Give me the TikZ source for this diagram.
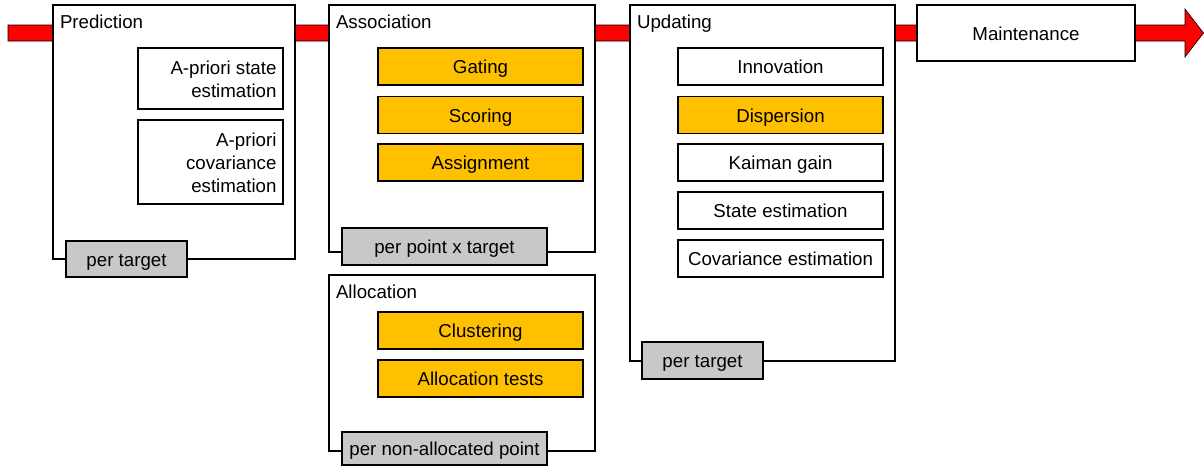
\documentclass[tikz,border=0pt]{standalone}
\usepackage{fontspec}
\setmainfont{Liberation Sans}
\definecolor{boxorange}{HTML}{FFC000}
\definecolor{taggray}{HTML}{C8C8C8}
\begin{document}
\begin{tikzpicture}[x=1pt,y=-1pt,
  every node/.style={font=\fontsize{18.7}{23}\selectfont, inner sep=0pt, outer sep=0pt},
  oneline/.style={text height=17pt, text depth=3pt},
  stage/.style={draw=black, line width=1.8pt, fill=white, anchor=center},
  task/.style={oneline, draw=black, line width=1.8pt, fill=white, minimum width=205pt, minimum height=37pt, anchor=center},
  otask/.style={task, fill=boxorange},
  tag/.style={oneline, draw=black, line width=1.8pt, fill=taggray, minimum height=36pt, anchor=center},
  title/.style={anchor=north west, inner sep=1pt},
  multi/.style={anchor=north east, align=right},
  flow/.style={fill=red, draw=black, line width=0.6pt}]
\useasboundingbox (0,0) rectangle (1204,467);
% flow arrow
\coordinate (fstart) at (8,33);
\coordinate (ftip) at (1203.5,33);
\draw[flow] (8,25) -- (1185,25) -- (1185,9) -- (ftip) -- (1185,57) -- (1185,41) -- (8,41) -- cycle;
% Prediction
\node[stage, minimum width=242pt, minimum height=254pt] (pred) at (174,132) {};
\node[title] (predt) at (pred.north west) [xshift=6pt, yshift=-9pt] {Prediction};
\node[task, minimum width=145pt, minimum height=61pt] (ap1) at (210.5,78.5) {};
\node[multi] (ap1t) at (276.5,60.6) {A-priori state\\estimation};
\node[task, minimum width=145pt, minimum height=84pt] (ap2) at (210.5,162) {};
\node[multi] (ap2t) at (276.5,133.2) {A-priori\\covariance\\estimation};
\node[tag, minimum width=121pt] (pt1) at (126.5,259) {per target};
% Association
\node[stage, minimum width=266pt, minimum height=247pt] (assoc) at (462,128.5) {};
\node[title] (assoct) at (assoc.north west) [xshift=6pt, yshift=-9pt] {Association};
\node[otask] (gat) at (480.5,66.5) {Gating};
\node[otask] (sco) at (480.5,115) {Scoring};
\node[otask] (ass) at (480.5,162.5) {Assignment};
\node[tag, minimum width=205pt, minimum height=37pt] (ppt) at (444.5,246.5) {per point x target};
% Allocation
\node[stage, minimum width=266pt, minimum height=176pt] (alloc) at (462,363) {};
\node[title] (alloct) at (alloc.north west) [xshift=6pt, yshift=-9pt] {Allocation};
\node[otask] (clu) at (480.5,330.5) {Clustering};
\node[otask] (alt) at (480.5,378.5) {Allocation tests};
\node[tag, minimum width=205pt, minimum height=33pt] (pnap) at (444.5,448.5) {per non-allocated point};
% Updating
\node[stage, minimum width=265pt, minimum height=356pt] (upd) at (762.5,183) {};
\node[title] (updt) at (upd.north west) [xshift=6pt, yshift=-9pt] {Updating};
\node[task] (inn) at (780.5,66.5) {Innovation};
\node[otask] (dis) at (780.5,115) {Dispersion};
\node[task] (kal) at (780.5,162.5) {Kaiman gain};
\node[task] (sta) at (780.5,210.5) {State estimation};
\node[task] (cov) at (780.5,258.5) {Covariance estimation};
\node[tag, minimum width=121pt, minimum height=37pt] (pt2) at (702.5,360.5) {per target};
% Maintenance
\node[stage, oneline, minimum width=218pt, minimum height=56pt] (main) at (1026,33) {Maintenance};
\end{tikzpicture}
\end{document}
